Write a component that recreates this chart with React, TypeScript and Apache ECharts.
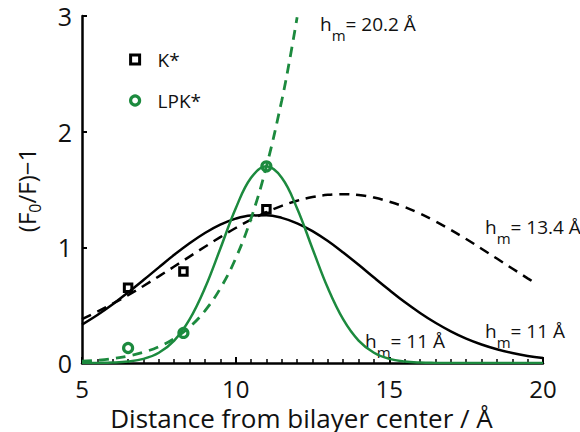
import React, { useEffect, useRef } from "react";
import * as echarts from "echarts";

const FONT = "Open Sans";
const GREEN = "#1c8a3e";
const BLACK = "#000000";

// Measured points
const kStarX = [6.5, 8.3, 11.0];
const kStarY = [0.65, 0.79, 1.33];
const lpkX = [6.5, 8.3, 11.0];
const lpkY = [0.13, 0.26, 1.7];

// Fitted curves: [distance, value]
const blackSolid: number[][] = [
  [5, 0.332], [5.5, 0.415], [6, 0.508], [6.5, 0.61], [7, 0.717], [7.5, 0.827],
  [8, 0.935], [8.5, 1.035], [9, 1.124], [9.5, 1.196], [10, 1.248], [10.5, 1.275],
  [11, 1.278], [11.5, 1.255], [12, 1.208], [12.5, 1.14], [13, 1.054], [13.5, 0.955],
  [14, 0.849], [14.5, 0.739], [15, 0.631], [15.5, 0.527], [16, 0.433], [16.5, 0.348],
  [17, 0.274], [17.5, 0.211], [18, 0.16], [18.5, 0.119], [19, 0.086], [19.5, 0.061],
  [20, 0.043],
];
const blackDashed: number[][] = [
  [5, 0.38], [5.5, 0.444], [6, 0.513], [6.5, 0.587], [7, 0.666], [7.5, 0.749],
  [8, 0.834], [8.5, 0.92], [9, 1.005], [9.5, 1.088], [10, 1.167], [10.5, 1.239],
  [11, 1.304], [11.5, 1.359], [12, 1.403], [12.5, 1.435], [13, 1.454], [13.5, 1.46],
  [14, 1.452], [14.5, 1.43], [15, 1.395], [15.5, 1.349], [16, 1.292], [16.5, 1.225],
  [17, 1.151], [17.5, 1.072], [18, 0.988], [18.5, 0.903], [19, 0.817], [19.5, 0.732],
  [19.75, 0.691],
];
const greenSolid: number[][] = [
  [5, 0.0], [5.5, 0.001], [6, 0.004], [6.5, 0.013], [7, 0.036], [7.5, 0.089],
  [8, 0.194], [8.5, 0.377], [9, 0.648], [9.5, 0.988], [10, 1.336], [10.5, 1.601],
  [11, 1.7], [11.5, 1.601], [12, 1.336], [12.5, 0.988], [13, 0.648], [13.5, 0.377],
  [14, 0.194], [14.5, 0.089], [15, 0.036], [15.5, 0.013], [16, 0.004], [16.5, 0.001],
  [17, 0.0], [18, 0.0], [19, 0.0], [20, 0.0],
];
const greenDashed: number[][] = [
  [5, 0.015], [5.5, 0.024], [6, 0.038], [6.5, 0.06], [7, 0.093], [7.5, 0.141],
  [8, 0.211], [8.5, 0.311], [9, 0.451], [9.5, 0.644], [10, 0.904], [10.5, 1.249],
  [11, 1.698], [11.5, 2.27], [11.75, 2.61], [12, 2.99],
];

const xTicks = { min: 5, max: 20, step: 5 };
const yTicks = { min: 0, max: 3, step: 1 };

const labels = [
  { text: "= 20.2 Å", x: 320, baseline: 30 },
  { text: "= 13.4 Å", x: 485, baseline: 233 },
  { text: "= 11 Å", x: 365, baseline: 347 },
  { text: "= 11 Å", x: 485, baseline: 337 },
];

export default function App() {
  const ref = useRef<HTMLDivElement>(null);
  useEffect(() => {
    document.body.style.margin = "0";
    if (!ref.current) return;
    const chart = echarts.init(ref.current, null, { renderer: "svg" });
    const hmRich = {
      h: { fontSize: 19, lineHeight: 36, fontFamily: FONT, fill: "#111" },
      m: { fontSize: 15, lineHeight: 15, verticalAlign: "bottom", fontFamily: FONT, fill: "#111" },
    };
    const option: any = {
      animation: false,
      backgroundColor: "#ffffff",
      grid: { left: 82, right: 37, top: 16, bottom: 69, containLabel: false, outerBoundsMode: "none" },
      xAxis: {
        type: "value",
        min: xTicks.min,
        max: xTicks.max,
        interval: xTicks.step,
        axisLine: { show: true, onZero: false, lineStyle: { color: BLACK, width: 2.5 } },
        axisTick: { show: true, inside: true, length: 6, lineStyle: { color: BLACK, width: 2 } },
        minorTick: { show: true, splitNumber: 10, length: 4, lineStyle: { color: BLACK, width: 1.5 } },
        splitLine: { show: false },
        axisLabel: { color: "#111", fontSize: 24, lineHeight: 20, fontFamily: FONT, margin: 15 },
        name: "Distance from bilayer center / Å",
        nameLocation: "middle",
        nameGap: 43,
        nameTextStyle: { color: "#111", fontSize: 26, lineHeight: 20, fontFamily: FONT, padding: [0, 22, 0, 0] },
      },
      yAxis: {
        type: "value",
        min: yTicks.min,
        max: yTicks.max,
        interval: yTicks.step,
        axisLine: { show: true, onZero: false, lineStyle: { color: BLACK, width: 2.5 } },
        axisTick: { show: true, inside: true, length: 5, lineStyle: { color: BLACK, width: 2 } },
        splitLine: { show: false },
        axisLabel: { color: "#111", fontSize: 25, lineHeight: 18, fontFamily: FONT, margin: 10 },
      },
      legend: {
        orient: "vertical",
        left: 124,
        top: 45,
        itemWidth: 9,
        itemHeight: 9,
        itemGap: 22,
        textStyle: { color: "#111", fontSize: 19, fontFamily: FONT, padding: [0, 0, 0, 13] },
        data: [
          { name: "K*", icon: "rect", itemStyle: { color: "rgba(255,255,255,0)", borderColor: BLACK, borderWidth: 3 } },
          { name: "LPK*", icon: "circle", itemStyle: { color: "rgba(255,255,255,0)", borderColor: GREEN, borderWidth: 3.2 } },
        ],
      },
      series: [
        {
          type: "line", name: "fit K* 11", data: blackSolid, smooth: 0.4, showSymbol: false,
          lineStyle: { color: BLACK, width: 2.5 }, z: 2,
        },
        {
          type: "line", name: "fit K* 13.4", data: blackDashed, smooth: 0.4, showSymbol: false,
          lineStyle: { color: BLACK, width: 2.5, type: [10, 7] }, z: 2,
        },
        {
          type: "line", name: "fit LPK* 11", data: greenSolid, smooth: 0.4, showSymbol: false,
          lineStyle: { color: GREEN, width: 2.5 }, z: 3,
        },
        {
          type: "line", name: "fit LPK* 20.2", data: greenDashed, smooth: 0.4, showSymbol: false,
          lineStyle: { color: GREEN, width: 2.8, type: [10, 7] }, z: 3,
        },
        {
          type: "scatter", name: "K*", data: kStarX.map((x, i) => [x, kStarY[i]]),
          symbol: "rect", symbolSize: 7.5,
          itemStyle: { color: "rgba(255,255,255,0)", borderColor: BLACK, borderWidth: 3, opacity: 1 }, z: 5,
        },
        {
          type: "scatter", name: "LPK*", data: lpkX.map((x, i) => [x, lpkY[i]]),
          symbol: "circle", symbolSize: 9,
          itemStyle: { color: "rgba(255,255,255,0)", borderColor: GREEN, borderWidth: 3.2, opacity: 1 }, z: 5,
        },
      ],
      graphic: [
        {
          type: "text",
          x: 26,
          y: 190,
          rotation: Math.PI / 2,
          style: {
            text: "{a|(F}{s|0}{a|/F)−1}",
            align: "center",
            verticalAlign: "middle",
            rich: {
              a: { fontSize: 24, lineHeight: 34, fontFamily: FONT, fill: "#111" },
              s: { fontSize: 16, lineHeight: 16, verticalAlign: "bottom", fontFamily: FONT, fill: "#111" },
            },
          },
        },
        ...labels.map((l) => ({
          type: "text",
          x: l.x,
          y: l.baseline - 6,
          style: {
            text: "{h|h}{m|m}{h|" + l.text + "}",
            align: "left",
            verticalAlign: "middle",
            rich: hmRich,
          },
        })),
      ],
    };
    chart.setOption(option);
    return () => chart.dispose();
  }, []);
  return <div ref={ref} style={{ width: 580, height: 432 }} />;
}
